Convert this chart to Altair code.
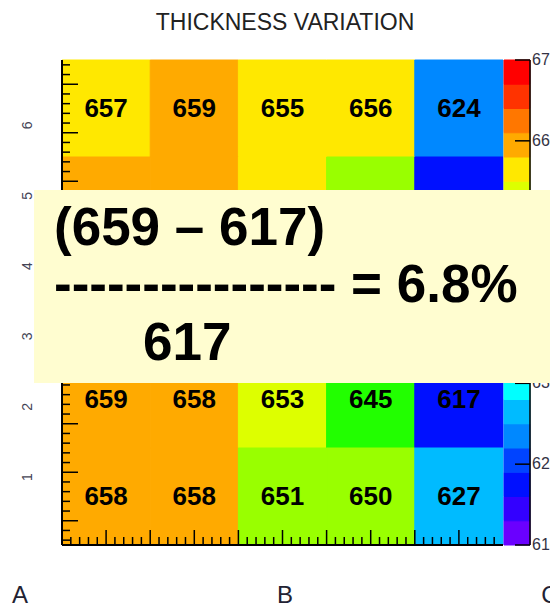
import altair as alt
import numpy as np
import pandas as pd

# ---- data -------------------------------------------------------------
title_text = "THICKNESS VARIATION"

# thickness map, rows from top to bottom, columns left to right
thickness = [
    [657, 659, 655, 656, 624],
    [658, 659, 656, 650, 618],
    [659, 658, 654, 647, 619],
    [659, 658, 653, 645, 617],
    [658, 658, 651, 650, 627],
]
row_labels = ["1", "2", "3", "4", "5", "6"]
col_labels = ["A", "B", "C"]

# colour palette: 20 bands from 610 to 670, step 3
z_min, z_max, z_step = 610, 670, 3
palette = [
    "#6a00ff", "#3300ff", "#0010ff", "#0044ff", "#0088ff",
    "#00bbff", "#00ffff", "#00ffbb", "#00ff88", "#00ff44",
    "#00ff11", "#22ff00", "#5eff00", "#99ff00", "#ddff00",
    "#ffe800", "#ffaa00", "#ff7700", "#ff3300", "#ff0000",
]
z_ticks = [610, 620, 630, 640, 650, 660, 670]

# ---- layout -----------------------------------------------------------
W, H = 441, 485
PAD_L, PAD_T = 62, 60
FONT = "Liberation Sans"

xscale = alt.Scale(domain=[0, 10], nice=False, zero=False)
yscale = alt.Scale(domain=[-0.5, 9.5], nice=False, zero=False)
zscale = alt.Scale(domain=[z_min, z_max], nice=False, zero=False)
thresholds = list(range(z_min + z_step, z_max, z_step))
cscale = alt.Scale(type="threshold", domain=thresholds, range=palette)

# ---- tables built from the data ---------------------------------------
cells = []
for r, row in enumerate(thickness):
    for c, v in enumerate(row):
        y1 = 9.5 - 2 * r
        cells.append({"x0": 2 * c, "x1": 2 * c + 2, "y0": y1 - 2, "y1": y1,
                      "xm": 2 * c + 1, "ym": y1 - 1, "v": v, "label": str(v)})
cells = pd.DataFrame(cells)

bands = pd.DataFrame({"lo": list(range(z_min, z_max, z_step))})
bands["hi"] = bands["lo"] + z_step
bands["v"] = bands["lo"]

zt = pd.DataFrame({"z": z_ticks, "label": [str(t) for t in z_ticks]})

y_all = [round(v, 1) for v in np.arange(-0.4, 9.41, 0.2)]
y_major = pd.DataFrame({"t": [v for v in y_all if float(v).is_integer()]})
y_minor = pd.DataFrame({"t": [v for v in y_all if not float(v).is_integer()]})
x_all = [round(v, 1) for v in np.arange(0.2, 9.81, 0.2)]
x_major = pd.DataFrame({"t": [v for v in x_all if float(v).is_integer()]})
x_minor = pd.DataFrame({"t": [v for v in x_all if not float(v).is_integer()]})

ylab = pd.DataFrame({"label": row_labels,
                     "pos": [0.9 + 1.45 * i for i in range(len(row_labels))]})
xlab = pd.DataFrame({"label": col_labels,
                     "px": [-42 + 265 * i for i in range(len(col_labels))]})

vals = [v for row in thickness for v in row]
hi, lo = max(vals), min(vals)
pct = (hi - lo) / lo * 100
line1 = f"({hi} – {lo})"
line2 = "-" * 16 + f" = {pct:.1f}%"
line3 = f"{lo}"

one = pd.DataFrame({"a": [0]})

# ---- layers -----------------------------------------------------------
heat = alt.Chart(cells).mark_rect(strokeWidth=1).encode(
    x=alt.X("x0:Q", scale=xscale, axis=None), x2="x1",
    y=alt.Y("y0:Q", scale=yscale, axis=None), y2="y1",
    color=alt.Color("v:Q", scale=cscale, legend=None),
    stroke=alt.Stroke("v:Q", scale=cscale, legend=None),
)
heat_text = alt.Chart(cells).mark_text(
    font=FONT, fontSize=26, fontWeight="bold", color="black", baseline="middle"
).encode(
    x=alt.X("xm:Q", scale=xscale, axis=None),
    y=alt.Y("ym:Q", scale=yscale, axis=None),
    text="label:N",
)

colorbar = alt.Chart(bands).mark_rect(strokeWidth=1).encode(
    x=alt.value(W + 1), x2=alt.value(W + 27),
    y=alt.Y("lo:Q", scale=zscale, axis=None), y2="hi",
    color=alt.Color("v:Q", scale=cscale, legend=None),
    stroke=alt.Stroke("v:Q", scale=cscale, legend=None),
)
cb_line = alt.Chart(one).mark_rule(color="black", strokeWidth=1.5).encode(
    x=alt.value(W + 27), y=alt.value(0), y2=alt.value(H))
cb_ticks = alt.Chart(zt).mark_rule(color="black", strokeWidth=1.5).encode(
    y=alt.Y("z:Q", scale=zscale, axis=None),
    x=alt.value(W + 12), x2=alt.value(W + 27))
cb_labels = alt.Chart(zt).mark_text(
    font=FONT, fontSize=16, color="#333344", align="left", baseline="middle"
).encode(y=alt.Y("z:Q", scale=zscale, axis=None), x=alt.value(W + 29), text="label:N")

left_line = alt.Chart(one).mark_rule(color="black", strokeWidth=2).encode(
    x=alt.value(0), y=alt.value(0), y2=alt.value(H))
bottom_line = alt.Chart(one).mark_rule(color="black", strokeWidth=2).encode(
    y=alt.value(H), x=alt.value(0), x2=alt.value(W))

ly_major = alt.Chart(y_major).mark_rule(color="black", strokeWidth=1.5).encode(
    y=alt.Y("t:Q", scale=yscale, axis=None), x=alt.value(0), x2=alt.value(16))
ly_minor = alt.Chart(y_minor).mark_rule(color="black", strokeWidth=1.5).encode(
    y=alt.Y("t:Q", scale=yscale, axis=None), x=alt.value(0), x2=alt.value(8))
bx_major = alt.Chart(x_major).mark_rule(color="black", strokeWidth=1.5).encode(
    x=alt.X("t:Q", scale=xscale, axis=None), y=alt.value(H), y2=alt.value(H - 15))
bx_minor = alt.Chart(x_minor).mark_rule(color="black", strokeWidth=1.5).encode(
    x=alt.X("t:Q", scale=xscale, axis=None), y=alt.value(H), y2=alt.value(H - 8))

y_labels = alt.Chart(ylab).mark_text(
    font=FONT, fontSize=14, color="#444455", angle=270, baseline="middle", align="center"
).encode(y=alt.Y("pos:Q", scale=yscale, axis=None), x=alt.value(-34), text="label:N")

x_labels = alt.Chart(xlab).mark_text(
    font=FONT, fontSize=24, color="#222233", align="center", baseline="alphabetic"
).encode(x=alt.X("px:Q", scale=None), y=alt.value(543), text="label:N")

title = alt.Chart(one).mark_text(
    font=FONT, fontSize=23, color="#222222", align="center", baseline="alphabetic"
).encode(x=alt.value(223), y=alt.value(-30), text=alt.value(title_text))

box = alt.Chart(one).mark_rect(color="#fffdd0", strokeWidth=0).encode(
    x=alt.value(-28), x2=alt.value(W + 60), y=alt.value(130), y2=alt.value(323))

formula_style = dict(font=FONT, fontSize=53, fontWeight="bold", color="black",
                     align="left", baseline="alphabetic")
f1 = alt.Chart(one).mark_text(**formula_style).encode(
    x=alt.value(-8), y=alt.value(185), text=alt.value(line1))
f2 = alt.Chart(one).mark_text(**formula_style).encode(
    x=alt.value(-8), y=alt.value(242), text=alt.value(line2))
f3 = alt.Chart(one).mark_text(**formula_style).encode(
    x=alt.value(81), y=alt.value(300), text=alt.value(line3))

chart = alt.layer(
    heat, heat_text, colorbar,
    ly_major, ly_minor, bx_major, bx_minor,
    left_line, bottom_line, cb_line, cb_ticks, cb_labels,
    y_labels, x_labels, title,
    box, f1, f2, f3,
).resolve_scale(
    y="independent", x="independent"
).properties(
    width=W, height=H,
    autosize=alt.AutoSizeParams(type="none"),
    padding={"left": PAD_L, "top": PAD_T, "right": 550 - PAD_L - W, "bottom": 604 - PAD_T - H},
    background="white",
).configure_view(stroke=None)

chart.save("out.html", embed_options={"renderer": "svg", "actions": False})
